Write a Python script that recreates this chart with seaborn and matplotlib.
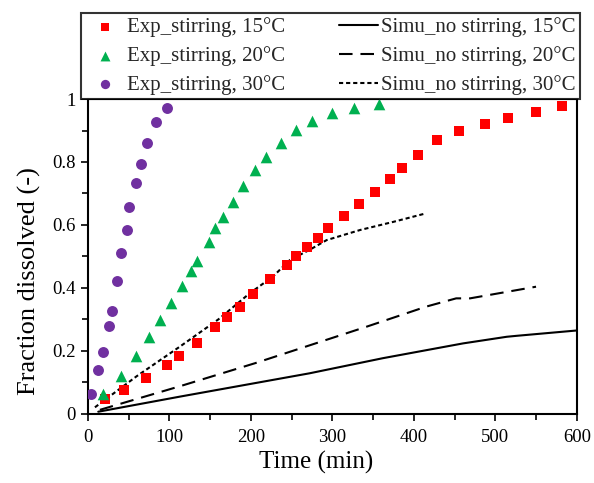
import numpy as np
import pandas as pd
import matplotlib
matplotlib.use("Agg")
import matplotlib.pyplot as plt
import seaborn as sns

# ---- data ----
t_exp15 = [21, 44.5, 71, 96.5, 112, 134, 156, 170.5, 187, 203, 224, 244, 256, 269, 282, 295,
           314, 333, 352, 371, 385, 405, 428, 456, 487, 515, 550, 581.5]
f_exp15 = [0.047, 0.076, 0.115, 0.156, 0.184, 0.226, 0.275, 0.307, 0.341, 0.382, 0.428, 0.474,
           0.500, 0.531, 0.558, 0.590, 0.627, 0.668, 0.704, 0.747, 0.780, 0.823, 0.870, 0.900,
           0.921, 0.941, 0.960, 0.977]

t_exp20 = [18, 41, 58.5, 75, 88, 102, 115, 126, 134.5, 148.5, 156.5, 166, 178, 190.5, 205,
           218, 237, 256, 275, 299, 327, 357]
f_exp20 = [0.063, 0.120, 0.184, 0.243, 0.298, 0.351, 0.406, 0.454, 0.487, 0.547, 0.590, 0.626,
           0.673, 0.724, 0.775, 0.815, 0.859, 0.902, 0.931, 0.957, 0.970, 0.984]

t_exp30 = [3.7, 12.7, 18, 26, 29, 36, 41, 48, 51, 58.5, 65, 73, 84, 96.5]
f_exp30 = [0.063, 0.141, 0.196, 0.280, 0.328, 0.423, 0.510, 0.585, 0.656, 0.732, 0.793, 0.859,
           0.927, 0.972]

t_sim15 = [12.7, 113, 199, 272, 362, 460.5, 514, 526, 600]
f_sim15 = [0.007, 0.055, 0.095, 0.129, 0.177, 0.224, 0.245, 0.248, 0.265]

t_sim20 = [14.7, 113, 205, 342, 415.5, 452, 469, 550]
f_sim20 = [0.013, 0.088, 0.161, 0.277, 0.341, 0.367, 0.367, 0.404]

t_sim30 = [8.6, 60, 113, 160, 199, 227, 248, 272, 293, 334, 375, 415]
f_sim30 = [0.021, 0.120, 0.214, 0.300, 0.384, 0.436, 0.489, 0.521, 0.552, 0.584, 0.610, 0.637]

exp_labels = ["Exp_stirring, 15\u00b0C", "Exp_stirring, 20\u00b0C", "Exp_stirring, 30\u00b0C"]
sim_labels = ["Simu_no stirring, 15\u00b0C", "Simu_no stirring, 20\u00b0C", "Simu_no stirring, 30\u00b0C"]

# ---- style ----
sns.set_style("ticks")
plt.rcParams['font.family'] = ['Liberation Serif', 'DejaVu Serif']

fig = plt.figure(figsize=(5.94, 4.83), dpi=100)
ax = fig.add_axes([0.148, 0.143, 0.823, 0.652])

exp_sets = [(t_exp15, f_exp15, 's', '#FF0000', 58),
            (t_exp20, f_exp20, '^', '#00B050', 70),
            (t_exp30, f_exp30, 'o', '#7030A0', 62)]
for (tt, ff, mk, col, sz), lab in zip(exp_sets, exp_labels):
    sns.scatterplot(x=tt, y=ff, marker=mk, color=col, s=sz, linewidth=0,
                    label=lab, ax=ax, zorder=3)

sim_sets = [(t_sim15, f_sim15, '-'),
            (t_sim20, f_sim20, (0, (6.5, 3.8))),
            (t_sim30, f_sim30, (0, (2.0, 1.4)))]
for (tt, ff, ls), lab in zip(sim_sets, sim_labels):
    sns.lineplot(x=tt, y=ff, color='black', linewidth=1.5, linestyle=ls,
                 label=lab, ax=ax, sort=False, estimator=None, zorder=2)

ax.set_xlim(0, 600)
ax.set_ylim(0, 1)
ax.set_xticks(np.arange(0, 601, 100))
ax.set_xticks(np.arange(0, 601, 50), minor=True)
ax.set_yticks([0, 0.2, 0.4, 0.6, 0.8, 1])
ax.set_yticklabels(["0", "0.2", "0.4", "0.6", "0.8", "1"])
ax.set_yticks(np.arange(0, 1.01, 0.1), minor=True)
ax.tick_params(axis='both', which='major', direction='out', length=5, width=1.2,
               labelsize=13.5, color='black', labelcolor='black')
ax.tick_params(axis='x', which='major', pad=6)
ax.tick_params(axis='both', which='minor', direction='out', length=4, width=1.2, color='black')
for sp in ax.spines.values():
    sp.set_visible(True)
    sp.set_color('black')
    sp.set_linewidth(1.5)

ax.set_xlabel("Time (min)", fontsize=18, color='black')
ax.xaxis.set_label_coords(0.467, -0.117)
ax.set_ylabel("Fraction dissolved (-)", fontsize=19, color='black')
ax.yaxis.set_label_coords(-0.095, 0.422)

h, l = ax.get_legend_handles_labels()
leg = fig.legend(h, l, ncol=2, loc='upper left', bbox_to_anchor=(81 / 594, 1 - 13 / 483),
                 frameon=True, fancybox=False, edgecolor='black', fontsize=15,
                 handlelength=1.87, handletextpad=0.12, columnspacing=2.6,
                 labelspacing=0.42, borderpad=0.22, borderaxespad=0, markerscale=0.85)
leg.get_frame().set_linewidth(1.5)
if ax.get_legend() is not None:
    ax.get_legend().remove()

fig.savefig("out.png", dpi=100)
